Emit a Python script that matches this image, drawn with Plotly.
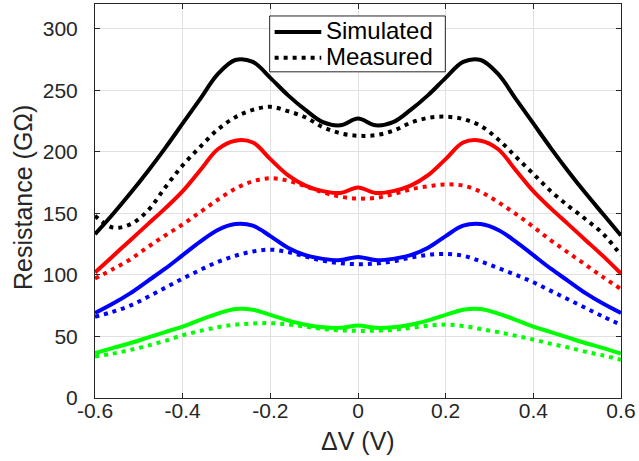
import plotly.graph_objects as go

# Bias sweep (V), shared by all curves
bias = [-0.6, -0.56, -0.52, -0.48, -0.44, -0.4, -0.36, -0.32, -0.28, -0.24, -0.2,
        -0.16, -0.12, -0.08, -0.04, 0.0, 0.04, 0.08, 0.12, 0.16, 0.2, 0.24, 0.28,
        0.32, 0.36, 0.4, 0.44, 0.48, 0.52, 0.56, 0.6]

# Simulated resistance (GOhm)
sim_black = [133, 149, 166, 184, 203, 223, 243, 263, 274.5, 273, 260, 246, 234, 224,
             221.5, 227, 221.5, 224, 234, 246, 260, 273, 274.5, 263, 243, 223, 203,
             184, 166, 149, 132]
sim_red = [102, 115, 128, 141, 154, 168, 185, 202, 209, 207.5, 194, 181, 172.5, 168,
           166.5, 171, 166.5, 168, 172.5, 181, 194, 207.5, 209, 202, 185, 168, 154,
           141, 128, 115, 101]
sim_blue = [69, 76.5, 85, 95, 105, 116, 127, 136.5, 141.3, 140, 131.5, 122, 116, 113,
            112, 114.6, 112, 113, 116, 122, 131.5, 140, 141.3, 136.5, 127, 116, 105,
            95, 85, 76.5, 69]
sim_green = [36.4, 40.5, 44.5, 49, 53.5, 58, 63.5, 68.5, 72.3, 71.7, 67.5, 63, 59.5,
             57.5, 57, 58.8, 57, 57.5, 59.5, 63, 67.5, 71.7, 72.3, 68.5, 63.5, 58,
             53.5, 49, 44.5, 40.5, 36]

# Measured resistance (GOhm)
meas_black = [148, 138.5, 141, 152, 171, 189, 204, 218, 228, 234, 236.5, 233, 228,
              220, 215, 213, 213.5, 217, 223.5, 227.5, 228.5, 226.5, 221, 210, 196,
              182, 168, 156, 145, 133, 116]
meas_red = [97, 104.5, 112.5, 122.5, 132, 141, 151, 161, 170, 176, 178.5, 176.5, 172,
            167, 163.5, 162, 162.5, 165.5, 169.5, 172, 173.5, 172.5, 167.5, 159,
            149.5, 139, 128, 118, 108, 98, 88.5]
meas_blue = [66, 70, 75, 82, 89.5, 97, 104, 110.5, 115.5, 119, 120.5, 118.5, 115,
             111.5, 109.5, 108.7, 109.2, 111, 114, 116.3, 117, 115.5, 111, 105.5, 100,
             94, 87, 80, 73, 66, 59.5]
meas_green = [33.7, 36, 39, 42.5, 46.5, 51, 54.5, 57.5, 59.5, 60.5, 60.8, 59.8, 58,
              56, 55, 54.5, 54.7, 55.3, 57, 58.7, 59.6, 58.5, 56, 53.5, 50.5, 47.5,
              44, 41, 37.5, 34.5, 31]

colors = ["#000000", "#ff0000", "#0000ff", "#00ff00"]
x_ticks = [-0.6, -0.4, -0.2, 0, 0.2, 0.4, 0.6]
x_tick_labels = ["-0.6", "-0.4", "-0.2", "0", "0.2", "0.4", "0.6"]
y_ticks = [0, 50, 100, 150, 200, 250, 300]
legend_labels = ["Simulated", "Measured"]

DOT = "4px,5px"
INK = "#262626"
FONT = "Liberation Sans, Arial, Helvetica, sans-serif"

fig = go.Figure()
for sim, meas, c in zip([sim_black, sim_red, sim_blue, sim_green],
                        [meas_black, meas_red, meas_blue, meas_green], colors):
    fig.add_trace(go.Scatter(x=bias, y=sim, mode="lines", showlegend=False,
                             line=dict(color=c, width=4, shape="spline", smoothing=1)))
    fig.add_trace(go.Scatter(x=bias, y=meas, mode="lines", showlegend=False,
                             line=dict(color=c, width=4, dash=DOT,
                                       shape="spline", smoothing=1)))

# plot area geometry in pixels, used to place the legend box and titles
L, R, T, B = 95, 625, 3, 398
W, H = R - L, B - T


def px(x):
    return (x - L) / W


def py(y):
    return (B - y) / H


shapes = [
    dict(type="rect", xref="paper", yref="paper",
         x0=px(271), x1=px(448), y0=py(71), y1=py(15),
         line=dict(color=INK, width=1), fillcolor="white", layer="above"),
    dict(type="line", xref="paper", yref="paper",
         x0=px(276), x1=px(323), y0=py(31), y1=py(31),
         line=dict(color="black", width=4), layer="above"),
    dict(type="line", xref="paper", yref="paper",
         x0=px(276), x1=px(323), y0=py(57), y1=py(57),
         line=dict(color="black", width=4, dash=DOT), layer="above"),
]

annotations = [
    dict(text=legend_labels[0], xref="paper", yref="paper", x=px(326), y=py(30),
         xanchor="left", yanchor="middle", showarrow=False,
         font=dict(family=FONT, size=24, color="black")),
    dict(text=legend_labels[1], xref="paper", yref="paper", x=px(326), y=py(56),
         xanchor="left", yanchor="middle", showarrow=False,
         font=dict(family=FONT, size=24, color="black")),
    dict(text="Resistance (GΩ)", xref="paper", yref="paper", x=px(22), y=py(197),
         xanchor="center", yanchor="middle", textangle=-90, showarrow=False,
         font=dict(family=FONT, size=25, color=INK)),
    dict(text="ΔV (V)", xref="paper", yref="paper", x=0.5, y=py(441),
         xanchor="center", yanchor="middle", showarrow=False,
         font=dict(family=FONT, size=25, color=INK)),
]

axis_common = dict(
    showline=True, linecolor=INK, linewidth=1, mirror="allticks",
    ticks="inside", ticklen=5, tickwidth=1, tickcolor=INK,
    showgrid=True, gridcolor="#e0e0e0", gridwidth=1, zeroline=False,
    tickfont=dict(family=FONT, size=21, color=INK),
    ticklabeloverflow="allow",
)

fig.update_layout(
    width=639, height=461,
    margin=dict(l=L, r=639 - R, t=T, b=461 - B),
    plot_bgcolor="white", paper_bgcolor="white",
    xaxis=dict(range=[-0.6001, 0.6001], tickvals=x_ticks, ticktext=x_tick_labels,
               ticklabelstandoff=-6, **axis_common),
    yaxis=dict(range=[0, 320], tickvals=y_ticks, ticklabelstandoff=12, **axis_common),
    shapes=shapes, annotations=annotations,
    showlegend=False,
)

fig.write_html("out.html")
